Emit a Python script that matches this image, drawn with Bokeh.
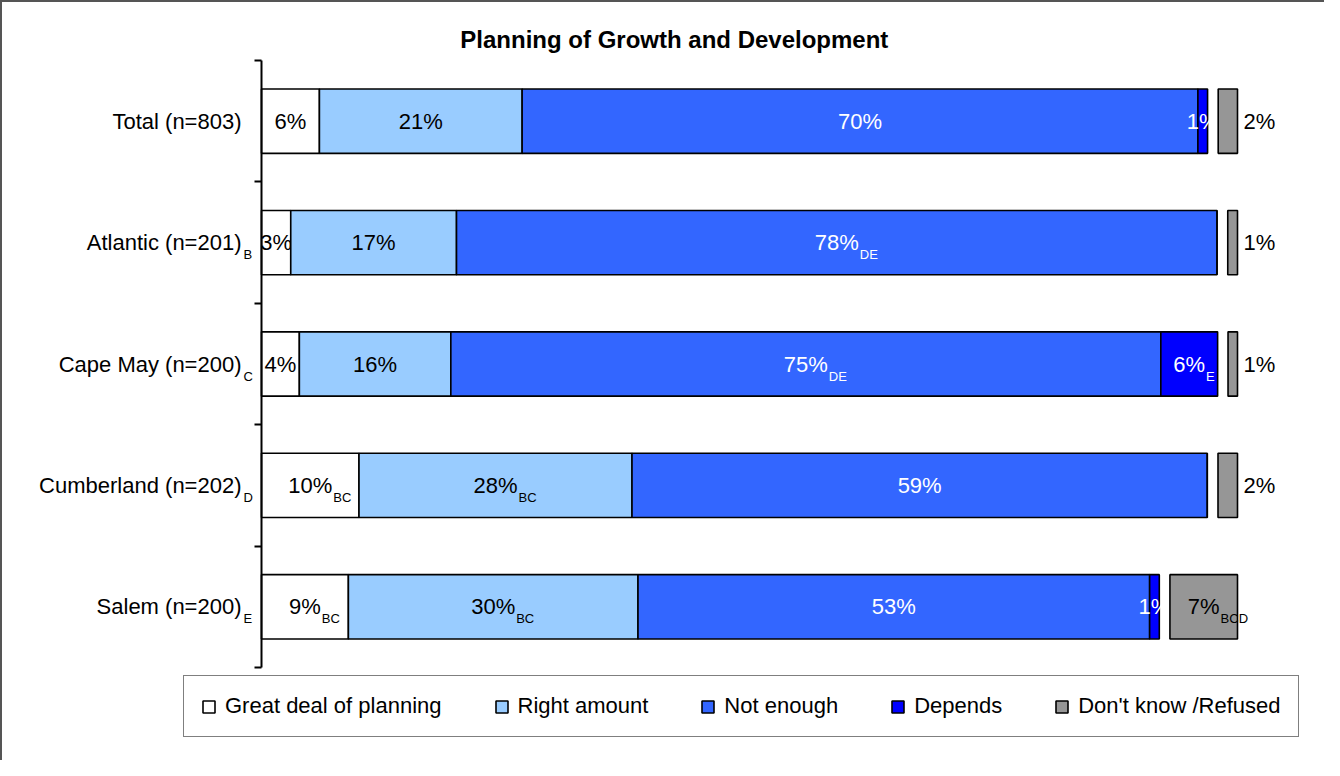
from bokeh.plotting import figure
from bokeh.models import (Range1d, FixedTicker, Legend, LegendItem,
                          ColumnDataSource)
from bokeh.core.properties import value
from bokeh.embed import file_html
from bokeh.resources import INLINE

# ---------------- data ----------------
categories = ["Total (n=803)", "Atlantic (n=201)", "Cape May (n=200)",
              "Cumberland (n=202)", "Salem (n=200)"]
category_marks = ["", "B", "C", "D", "E"]
series_names = ["Great deal of planning", "Right amount", "Not enough",
                "Depends", "Don't know /Refused"]
great_deal = [6, 3, 4, 10, 9]
right_amount = [21, 17, 16, 28, 30]
not_enough = [70, 78, 75, 59, 53]
depends = [1, 0, 6, 0, 1]
dont_know = [2, 1, 1, 2, 7]
great_marks = ["", "", "", "BC", "BC"]
right_marks = ["", "", "", "BC", "BC"]
not_enough_marks = ["", "DE", "DE", "", ""]
depends_marks = ["", "", "E", "", ""]
dont_know_marks = ["", "", "", "", "BCD"]
title_text = "Planning of Growth and Development"

# ---------------- style ----------------
colors = ["#FFFFFF", "#99CCFF", "#3366FF", "#0000FF", "#969696"]
label_colors = ["#000000", "#000000", "#FFFFFF", "#FFFFFF", "#000000"]
FONT = "Liberation Sans"
GAP = 1.1          # spacer between the stacked bar and the separate DK bar
BAR_H = 0.53

W, H = 1324, 760
BORDER_L = 30                  # frame starts 30px into the canvas
PX_PER_PCT = 9.76
PX_PER_ROW = 121.4
AXIS_PX = 261                  # canvas x of the value-axis origin
TOP_PX = 60                    # canvas y of first category boundary

series = [great_deal, right_amount, not_enough, depends, dont_know]
marks = [great_marks, right_marks, not_enough_marks, depends_marks, dont_know_marks]
n = len(categories)
ys = [i + 0.5 for i in range(n)]

# 100%-stacked (incl. spacer) like the original chart
totals = [sum(s[i] for s in series) + GAP for i in range(n)]
scaled = [[s[i] * 100.0 / totals[i] for i in range(n)] for s in series]

CW = {"%": 0.889}
def text_w(t, size):
    return sum(CW.get(c, 0.556) for c in t) * size

x_start = -(AXIS_PX - BORDER_L) / PX_PER_PCT
x_end = x_start + (W - BORDER_L) / PX_PER_PCT
y_top = -TOP_PX / PX_PER_ROW
y_bot = y_top + H / PX_PER_ROW

p = figure(width=W, height=H,
           x_range=Range1d(x_start, x_end), y_range=Range1d(y_bot, y_top),
           output_backend="svg", toolbar_location=None,
           x_axis_location=None,
           min_border_left=BORDER_L, min_border_top=0,
           min_border_bottom=0, min_border_right=0)
p.grid.visible = False
p.outline_line_color = None
p.border_fill_color = None
p.background_fill_color = None
p.styles = {"box-shadow": "inset 2px 2px 0 0 #555555"}

renderers = []
lefts = [0.0] * n
for k in range(5):
    if k < 4:
        left = lefts[:]
        right = [left[i] + scaled[k][i] for i in range(n)]
        lefts = right[:]
    else:
        left = [100.0 - scaled[k][i] for i in range(n)]
        right = [100.0] * n
    src = ColumnDataSource(dict(y=ys, left=left, right=right))
    r = p.hbar(y="y", left="left", right="right", height=BAR_H, source=src,
               fill_color=colors[k], line_color="#000000", line_width=1.6)
    renderers.append(r)

    # value labels
    tx, ty, tt, off, align = [], [], [], [], []
    sx, sy, st, soff = [], [], [], []
    for i in range(n):
        v = series[k][i]
        if v == 0:
            continue
        t = f"{v}%"
        if k == 4 and v < 5:
            x = right[i]
            o = 6
            a = "left"
            sub_o = 6 + text_w(t, 22) + 1
        else:
            x = (left[i] + right[i]) / 2
            o = 0
            a = "center"
            sub_o = text_w(t, 22) / 2 + 1
        tx.append(x); ty.append(ys[i]); tt.append(t); off.append(o); align.append(a)
        if marks[k][i]:
            sx.append(x); sy.append(ys[i] + 0.1); st.append(marks[k][i]); soff.append(sub_o)
    p.text(x=tx, y=ty, text=tt, x_offset=off, text_align=align,
           text_baseline="middle", text_font=value(FONT),
           text_font_size="22px", text_color=label_colors[k])
    if st:
        p.text(x=sx, y=sy, text=st, x_offset=soff, text_align="left",
               text_baseline="middle", text_font=value(FONT),
               text_font_size="13px", text_color=label_colors[k])

# category axis: line + boundary ticks from Bokeh's axis, placed at x = 0
ax = p.yaxis[0]
ax.fixed_location = 0
ax.bounds = (0, n)
ax.ticker = FixedTicker(ticks=[], minor_ticks=list(range(n + 1)))
ax.major_tick_line_color = None
ax.major_tick_out = 0
ax.major_tick_in = 0
ax.minor_tick_out = 7
ax.minor_tick_in = 0
ax.minor_tick_line_color = "#000000"
ax.minor_tick_line_width = 2
ax.axis_line_color = "#000000"
ax.axis_line_width = 2
ax.major_label_standoff = 0

# category names and their significance letters
p.text(x=[0] * n, y=ys, text=categories, x_offset=-20, text_align="right",
       text_baseline="middle", text_font=value(FONT), text_font_size="22px",
       text_color="#000000")
sub_y = [ys[i] + 0.1 for i in range(n) if category_marks[i]]
sub_t = [category_marks[i] for i in range(n) if category_marks[i]]
p.text(x=[0] * len(sub_t), y=sub_y, text=sub_t, x_offset=-18,
       text_align="left", text_baseline="middle", text_font=value(FONT),
       text_font_size="13px", text_color="#000000")

# title
p.text(x=[42.3], y=[-21 / PX_PER_ROW], text=[title_text], text_align="center",
       text_baseline="middle", text_font=value(FONT), text_font_size="24px",
       text_font_style="bold", text_color="#000000")

legend = Legend(items=[LegendItem(label=series_names[k], renderers=[renderers[k]])
                       for k in range(5)],
                orientation="horizontal", location=(153, 23),
                border_line_color="#000000", border_line_width=1.5,
                background_fill_color="#FFFFFF", background_fill_alpha=1.0,
                padding=17, spacing=52, margin=0,
                glyph_width=15, glyph_height=15, label_standoff=9,
                label_text_font=FONT, label_text_font_size="22px",
                label_text_color="#000000")
p.add_layout(legend, "center")

open("out.html", "w").write(file_html(p, INLINE))
